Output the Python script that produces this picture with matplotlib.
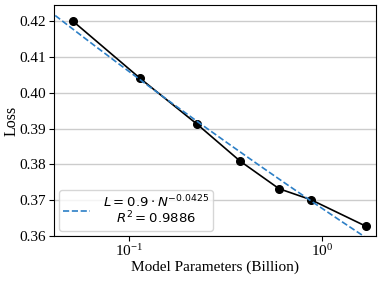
import numpy as np
import matplotlib.pyplot as plt

# model sizes (billion params) and final loss
params = np.array([0.0513, 0.114, 0.225, 0.376, 0.598, 0.877, 1.69])
loss = np.array([0.4199, 0.4040, 0.3912, 0.3809, 0.3732, 0.3701, 0.3627])

# power-law fit in log space
b, log_a = np.polyfit(np.log(params), np.log(loss), 1)
x_fit = np.logspace(np.log10(0.035), np.log10(2.2), 200)
y_fit = np.exp(log_a) * x_fit ** b

plt.rcParams['font.family'] = ['Liberation Serif', 'DejaVu Serif']
plt.rcParams['mathtext.fontset'] = 'stix'

fig = plt.figure(figsize=(3.81, 2.86), dpi=100)
ax = fig.add_axes([0.142, 0.175, 0.845, 0.8075])

ax.plot(params, loss, 'o-', color='black', lw=1.2, ms=5.5, zorder=3)
ax.plot(x_fit, y_fit, '--', color='#2c7fc6', lw=1.2, zorder=4,
        label='$L = 0.9 \\cdot N^{-0.0425}$\n$R^2 = 0.9886$')

ax.set_xscale('log')
ax.set_xlim(0.0408, 1.905)
ax.set_ylim(0.36, 0.4245)
ax.set_yticks([0.36, 0.37, 0.38, 0.39, 0.40, 0.41, 0.42])
ax.set_yticklabels(['0.36', '0.37', '0.38', '0.39', '0.40', '0.41', '0.42'])
ax.xaxis.set_minor_locator(plt.NullLocator())
ax.tick_params(labelsize=11, pad=2)
ax.grid(axis='y', color='#cccccc', lw=1)
ax.set_axisbelow(True)

ax.set_xlabel('Model Parameters (Billion)', fontsize=11, labelpad=1)
ax.set_ylabel('Loss', fontsize=11.5)
ax.yaxis.set_label_coords(-0.108, 0.5)

leg = ax.legend(loc='lower left',
                prop={'family': 'DejaVu Sans', 'size': 9.5, 'math_fontfamily': 'dejavusans'},
                handlelength=2.0, handletextpad=1.0, borderaxespad=0.4,
                borderpad=0.3)
for t in leg.get_texts():
    t.set_multialignment('center')
    t.set_linespacing(0.95)

fig.savefig('out.png', dpi=100)
